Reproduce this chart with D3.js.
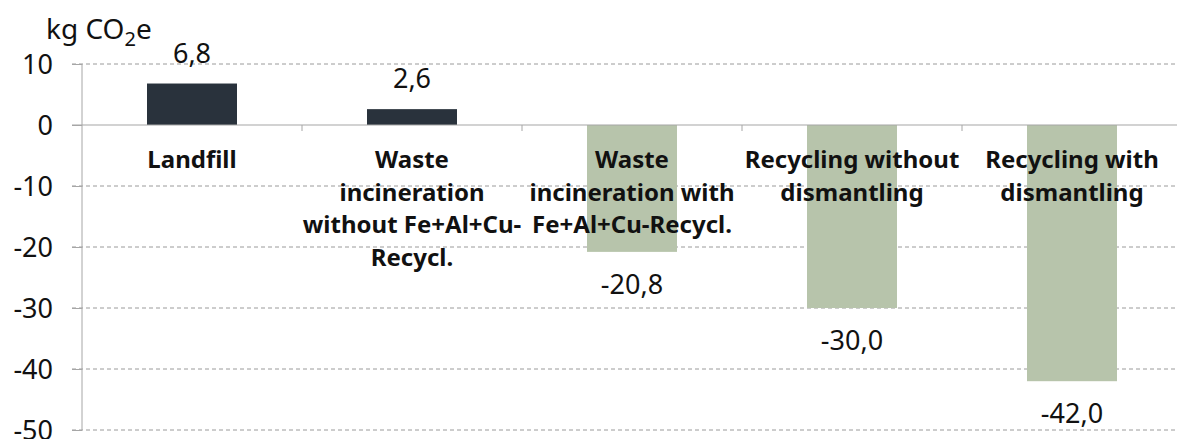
<!DOCTYPE html>
<html><head><meta charset="utf-8">
<script src="https://cdn.jsdelivr.net/npm/d3@7"></script>
<style>body{margin:0;background:#fff}svg{display:block}text{font-family:"Noto Sans",sans-serif}</style>
</head><body>
<script>
const categories = ["Landfill","Waste\nincineration\nwithout Fe+Al+Cu-\nRecycl.","Waste\nincineration with\nFe+Al+Cu-Recycl.","Recycling without\ndismantling","Recycling with\ndismantling"];
const values = [6.8, 2.6, -20.8, -30.0, -42.0];
const valueLabels = ["6,8","2,6","-20,8","-30,0","-42,0"];
const yTicks = [10, 0, -10, -20, -30, -40, -50];

const W = 1177, H = 439;
const svg = d3.select("body").append("svg").attr("width", W).attr("height", H);
const x = d3.scaleBand().domain(d3.range(categories.length)).range([82, 1182]).paddingInner(0).paddingOuter(0);
const y = d3.scaleLinear().domain([-50, 10]).range([430, 64]);

// gridlines
svg.append("g").selectAll("line").data(yTicks.filter(d => d !== 0)).join("line")
  .attr("x1", 72).attr("x2", W).attr("y1", d => y(d)).attr("y2", d => y(d))
  .attr("stroke", "#9a9a9a").attr("stroke-width", 1).attr("stroke-dasharray", "4,3");

// y axis
const yAxis = svg.append("g").attr("transform", "translate(82,0)")
  .call(d3.axisLeft(y).tickValues(yTicks).tickSize(10).tickPadding(19).tickFormat(d => String(d)));
yAxis.select(".domain").attr("stroke", "#a6a6a6").attr("d", `M0,${y(10)}V${y(-50)}`);
yAxis.selectAll(".tick line").attr("stroke", "#a6a6a6");
yAxis.selectAll(".tick text").attr("font-size", 27).attr("fill", "#111").attr("font-family", "Noto Sans").attr("dy", "0.36em");

// bars
const bw = 90;
svg.append("g").selectAll("rect").data(values).join("rect")
  .attr("x", (d, i) => x(i) + x.bandwidth() / 2 - bw / 2)
  .attr("width", bw)
  .attr("y", d => y(Math.max(0, d)))
  .attr("height", d => Math.abs(y(d) - y(0)))
  .attr("fill", d => d >= 0 ? "#29323c" : "#b7c4ab");

// zero axis
svg.append("line").attr("x1", 72).attr("x2", W).attr("y1", y(0)).attr("y2", y(0)).attr("stroke", "#a6a6a6").attr("stroke-width", 1.2);
svg.append("g").selectAll("line").data(d3.range(1, categories.length + 1)).join("line")
  .attr("x1", i => 82 + i * x.bandwidth()).attr("x2", i => 82 + i * x.bandwidth())
  .attr("y1", y(0)).attr("y2", y(0) + 6).attr("stroke", "#a6a6a6");

// category labels
const cat = svg.append("g").selectAll("text").data(categories).join("text")
  .attr("x", (d, i) => x(i) + x.bandwidth() / 2)
  .attr("y", 168)
  .attr("text-anchor", "middle").attr("font-size", 24).attr("font-weight", "bold").attr("fill", "#111");
cat.each(function(d) {
  const lines = d.split("\n");
  d3.select(this).selectAll("tspan").data(lines).join("tspan")
    .attr("x", d3.select(this).attr("x")).attr("dy", (l, j) => j === 0 ? 0 : 32.7).text(l => l);
});

// value labels
svg.append("g").selectAll("text").data(values).join("text")
  .attr("x", (d, i) => x(i) + x.bandwidth() / 2)
  .attr("y", d => d >= 0 ? y(d) - 21 : y(d) + 42)
  .attr("text-anchor", "middle").attr("font-size", 27).attr("fill", "#111")
  .text((d, i) => valueLabels[i]);

// unit label
const u = svg.append("text").attr("x", 46).attr("y", 39).attr("font-size", 28).attr("fill", "#111");
u.append("tspan").text("kg CO");
u.append("tspan").attr("font-size", 20).attr("dy", 7).text("2");
u.append("tspan").attr("dy", -7).text("e");
</script>
</body></html>
